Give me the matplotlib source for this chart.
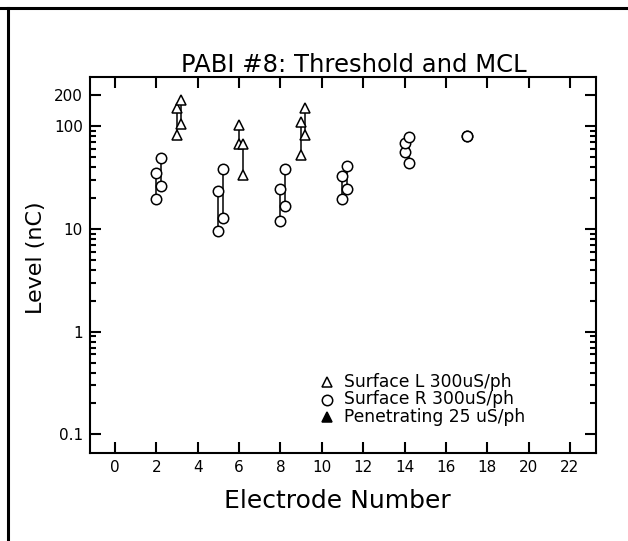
import numpy as np
import matplotlib
matplotlib.use("Agg")
import matplotlib.pyplot as plt
from matplotlib.lines import Line2D
from matplotlib.ticker import FixedLocator, NullFormatter, FixedFormatter

# ---- data ----
# Surface L (open triangles): electrode position, threshold, MCL
surfL_x = [3.0, 3.2, 6.0, 6.2, 9.0, 9.2]
surfL_thr = [82, 105, 66.6, 33.8, 52.4, 82]
surfL_mcl = [150, 179, 103, 67, 109, 150]

# Surface R (open circles)
surfR_x = [2.0, 2.2, 5.0, 5.2, 8.0, 8.2, 11.0, 11.2, 14.0, 14.2, 17.0]
surfR_thr = [19.7, 26.2, 9.5, 12.8, 11.9, 16.7, 19.7, 24.3, 55.6, 44.0, 80.4]
surfR_mcl = [35.2, 49.6, 23.7, 38.1, 24.7, 38.1, 32.9, 41.2, 69.2, 79.3, 80.4]

legend_labels = ["Surface L 300uS/ph", "Surface R 300uS/ph", "Penetrating 25 uS/ph"]
x_ticks = list(range(0, 23, 2))
y_major = [0.1, 1, 10, 100, 200]
y_major_labels = ["0.1", "1", "10", "100", "200"]

plt.rcParams['font.family'] = ['DejaVu Sans']

W, H = 628, 541
fig = plt.figure(figsize=(W / 100, H / 100), dpi=100)
AX_L, AX_R, AX_T, AX_B = 90, 596, 76.7, 453
ax = fig.add_axes([AX_L / W, 1 - AX_B / H, (AX_R - AX_L) / W, (AX_B - AX_T) / H])

lw_axis = 1.5
ms = 7.5
mew = 1.1

# vertical connector lines
for xs, thr, mcl in [(surfL_x, surfL_thr, surfL_mcl), (surfR_x, surfR_thr, surfR_mcl)]:
    for x, t, m in zip(xs, thr, mcl):
        ax.plot([x, x], [t, m], color='black', lw=1.1, zorder=2)

for xs, thr, mcl, mk in [(surfL_x, surfL_thr, surfL_mcl, '^'), (surfR_x, surfR_thr, surfR_mcl, 'o')]:
    ax.plot(xs, thr, linestyle='none', marker=mk, ms=ms, mfc='white', mec='black', mew=mew, zorder=3)
    ax.plot(xs, mcl, linestyle='none', marker=mk, ms=ms, mfc='white', mec='black', mew=mew, zorder=3)

ax.set_yscale('log')
ax.set_xlim(-1.21, 23.26)
ax.set_ylim(0.0659, 304)

ax.set_xticks(x_ticks)
ax.set_xticklabels([str(t) for t in x_ticks])
ax.yaxis.set_major_locator(FixedLocator(y_major))
ax.yaxis.set_major_formatter(FixedFormatter(y_major_labels))
minors = [m * d for d in (0.1, 1, 10) for m in range(2, 10)]
ax.yaxis.set_minor_locator(FixedLocator(minors))
ax.yaxis.set_minor_formatter(NullFormatter())

ax.tick_params(axis='both', which='major', direction='in', length=8, width=lw_axis,
               top=True, right=True, labelsize=11, pad=5)
ax.tick_params(axis='y', which='minor', direction='in', length=4.5, width=lw_axis,
               left=True, right=True)
ax.tick_params(axis='x', which='minor', bottom=False, top=False)
for s in ax.spines.values():
    s.set_linewidth(lw_axis)

# legend (drawn manually, positions in figure pixels converted to axes fraction)
def ax_frac(px, py):
    return (px - AX_L) / (AX_R - AX_L), (AX_B - py) / (AX_B - AX_T)

leg_markers = ['^', 'o', '^']
leg_fill = ['white', 'white', 'black']
leg_rows = [382, 399.5, 417]
for mk, fc, lab, row in zip(leg_markers, leg_fill, legend_labels, leg_rows):
    mx, my = ax_frac(327, row)
    tx, ty = ax_frac(344, row)
    ax.plot([mx], [my], transform=ax.transAxes, linestyle='none', marker=mk, ms=ms,
            mfc=fc, mec='black', mew=mew, clip_on=False, zorder=4)
    ax.text(tx, ty, lab, transform=ax.transAxes, ha='left', va='center', fontsize=12.3)

# titles / labels
fig.text(354 / W, 1 - 72 / H, "PABI #8: Threshold and MCL", ha='center', va='baseline', fontsize=17.5)
fig.text(337 / W, 1 - 508 / H, "Electrode Number", ha='center', va='baseline', fontsize=18)
fig.text(36 / W, 1 - 258 / H, "Level (nC)", ha='center', va='center', rotation=90, fontsize=16)

# page frame lines
fig.add_artist(Line2D([0, 1], [1 - 8 / H, 1 - 8 / H], transform=fig.transFigure, color='black', lw=2.2))
fig.add_artist(Line2D([8 / W, 8 / W], [0, 1 - 8 / H], transform=fig.transFigure, color='black', lw=2.2))

fig.savefig("out.png", dpi=100)
